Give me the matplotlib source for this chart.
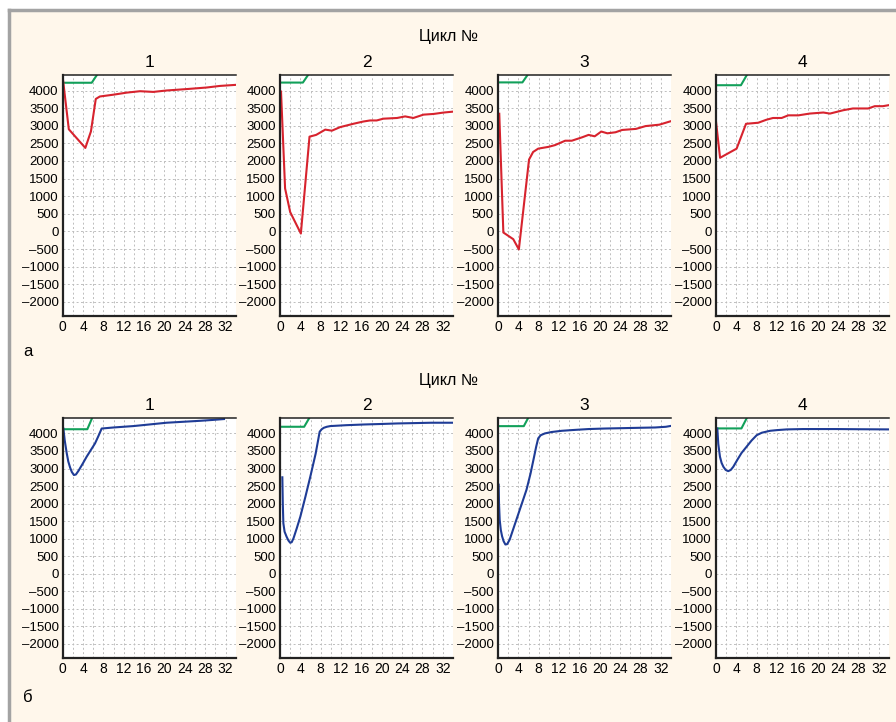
import numpy as np
import matplotlib.pyplot as plt
from matplotlib.patches import Rectangle
from matplotlib.lines import Line2D

plt.rcParams["font.family"] = ["Liberation Sans Narrow", "Liberation Sans", "DejaVu Sans"]

# Red curves (top row, "а")
red_x = [
    [0, 1.2, 4.45, 5.55, 6.5, 7.3, 9.9, 12.6, 15.2, 17.8, 20.4, 24.3, 28.3, 30.9, 34],
    [0.2, 1.0, 2.0, 4.1, 5.8, 7.1, 8.9, 10.2, 11.8, 14.4, 16.4, 17.7, 19.0, 20.3,
     23.0, 24.6, 26.2, 28.2, 30.2, 32.2, 34],
    [0.25, 1.05, 3.0, 4.1, 6.1, 6.9, 7.9, 9.9, 11.2, 13.2, 14.5, 16.5, 17.8, 19.0,
     20.3, 21.5, 23.1, 24.4, 27.1, 29.0, 31.7, 34],
    [0, 0.8, 4.05, 5.9, 8.3, 9.9, 11.2, 12.9, 14.2, 16.2, 18.4, 21.1, 22.4, 25.0,
     26.9, 29.9, 31.2, 32.8, 34],
]
red_y = [
    [4380, 2900, 2370, 2840, 3760, 3830, 3880, 3940, 3980, 3960, 4000, 4040, 4085, 4130, 4160],
    [3970, 1220, 550, -60, 2690, 2740, 2890, 2860, 2960, 3055, 3120, 3150, 3150, 3200,
     3220, 3265, 3220, 3315, 3335, 3375, 3400],
    [3340, -30, -220, -510, 2040, 2255, 2350, 2400, 2450, 2575, 2575, 2670, 2740, 2700,
     2835, 2785, 2815, 2880, 2910, 2990, 3030, 3130],
    [3120, 2090, 2350, 3055, 3085, 3170, 3220, 3220, 3295, 3295, 3345, 3375, 3345, 3440,
     3490, 3490, 3555, 3555, 3585],
]

# Blue curves (bottom row, "б")
blue_x = [
    [0.13, 0.4, 0.8, 1.1, 1.45, 1.8, 2.2, 2.6, 3.1, 3.9, 4.7, 5.5, 6.35, 7.0, 7.66,
     10.0, 13.9, 17.0, 20.4, 24.0, 27.0, 29.5, 31.7],
    [0.46, 0.55, 0.66, 0.9, 1.3, 1.65, 2.0, 2.3, 2.65, 3.3, 4.0, 5.0, 5.95, 7.0, 7.8,
     8.2, 8.6, 9.2, 9.9, 13.0, 16.5, 20.0, 23.1, 26.5, 29.7, 34],
    [0.13, 0.2, 0.33, 0.55, 0.8, 1.1, 1.45, 1.8, 2.3, 3.1, 3.95, 4.8, 5.6, 6.4, 7.1,
     7.5, 7.9, 8.4, 9.2, 10.5, 12.5, 15.0, 17.8, 21.0, 24.3, 27.5, 30.9, 33.0, 34],
    [0.26, 0.45, 0.78, 1.1, 1.45, 1.9, 2.4, 2.9, 3.4, 4.2, 5.0, 6.0, 7.0, 8.0, 9.0,
     10.6, 12.0, 13.9, 17.1, 20.0, 23.7, 28.0, 34],
]
blue_y = [
    [4140, 3800, 3430, 3200, 3030, 2900, 2815, 2830, 2935, 3130, 3335, 3520, 3715, 3920, 4140,
     4170, 4210, 4255, 4305, 4335, 4360, 4385, 4410],
    [2750, 2000, 1440, 1200, 1055, 950, 885, 900, 1010, 1300, 1630, 2200, 2765, 3420, 4050,
     4120, 4160, 4190, 4210, 4235, 4255, 4270, 4285, 4295, 4305, 4305],
    [2540, 2000, 1545, 1250, 1070, 930, 835, 845, 975, 1320, 1685, 2050, 2395, 2860, 3340,
     3620, 3860, 3950, 4000, 4040, 4075, 4100, 4125, 4140, 4150, 4160, 4170, 4190, 4215],
    [4140, 3700, 3335, 3160, 3050, 2960, 2925, 2960, 3050, 3250, 3440, 3620, 3800, 3950, 4020,
     4075, 4095, 4115, 4125, 4125, 4125, 4120, 4115],
]

# Green reference lines (flat, then rising out of the frame)
green_top_x = [[0, 5.7, 7.7], [0, 4.5, 6.5], [0, 4.8, 6.8], [0, 4.9, 6.9]]
green_top_y = [[4220, 4220, 4650], [4225, 4225, 4650], [4230, 4230, 4650], [4150, 4150, 4650]]
green_bot_x = [[0, 4.84, 6.4], [0, 4.75, 6.6], [0, 5.07, 6.7], [0, 5.0, 6.8]]
green_bot_y = [[4120, 4120, 4650], [4190, 4190, 4650], [4208, 4208, 4650], [4143, 4143, 4650]]

titles = ["1", "2", "3", "4"]
yticks = np.arange(-2000, 4001, 500)
xticks = np.arange(0, 33, 4)

RED = "#d7232e"
BLUE = "#1f3c96"
GREEN = "#12a05a"
BG = "#fff7eb"

fig = plt.figure(figsize=(8.96, 7.22), dpi=100)
fig.patch.set_facecolor("white")

# cream panel with grey frame on the top and left
fig.add_artist(Rectangle((9 / 896, 0), 1, 1 - 10 / 722, transform=fig.transFigure,
                         facecolor=BG, edgecolor="none", zorder=-10))
fig.add_artist(Line2D([9 / 896, 1], [1 - 10 / 722, 1 - 10 / 722], transform=fig.transFigure,
                      color="#a3a3a3", lw=2.5))
fig.add_artist(Line2D([9 / 896, 9 / 896], [0, 1 - 10 / 722], transform=fig.transFigure,
                      color="#a3a3a3", lw=2.5))

lefts = [62.7, 280, 498, 716]
rows = [(75, 316), (418, 658)]


def style_axes(ax, title):
    ax.set_xlim(0, 34)
    ax.set_ylim(-2400, 4440)
    ax.set_xticks(xticks)
    ax.set_xticks(np.arange(0, 35, 2), minor=True)
    ax.set_xticklabels(["%d" % v for v in xticks], fontsize=10)
    ax.set_yticks(yticks)
    ax.set_yticklabels([("%d" % v).replace("-", "\u2013") for v in yticks], fontsize=9.5)
    ax.tick_params(which="both", length=0, pad=3)
    ax.grid(True, which="both", color="#bdbdbd", ls=(0, (2, 2.5)), lw=0.7)
    ax.set_axisbelow(True)
    for s in ["left", "bottom"]:
        ax.spines[s].set_linewidth(1.6)
        ax.spines[s].set_color("#222222")
    ax.spines["top"].set_linewidth(1.1)
    ax.spines["top"].set_color("#222222")
    ax.spines["right"].set_visible(False)
    ax.set_title(title, fontsize=12.5, pad=5.5)


for i in range(4):
    for r, (top, bot) in enumerate(rows):
        ax = fig.add_axes([lefts[i] / 896, 1 - bot / 722, 173 / 896, (bot - top) / 722])
        ax.set_facecolor("white")
        style_axes(ax, titles[i])
        if r == 0:
            ax.plot(green_top_x[i], green_top_y[i], color=GREEN, lw=1.5, solid_capstyle="butt")
            ax.plot(red_x[i], red_y[i], color=RED, lw=1.5)
        else:
            ax.plot(green_bot_x[i], green_bot_y[i], color=GREEN, lw=1.5, solid_capstyle="butt")
            ax.plot(blue_x[i], blue_y[i], color=BLUE, lw=1.5)

fig.text(448 / 896, 1 - 37 / 722, "Цикл №", ha="center", va="center", fontsize=11.5)
fig.text(448 / 896, 1 - 381 / 722, "Цикл №", ha="center", va="center", fontsize=11.5)
fig.text(28 / 896, 1 - 352 / 722, "а", ha="center", va="center", fontsize=12)
fig.text(28 / 896, 1 - 698 / 722, "б", ha="center", va="center", fontsize=12)

fig.savefig("out.png", dpi=100, facecolor=fig.get_facecolor())
